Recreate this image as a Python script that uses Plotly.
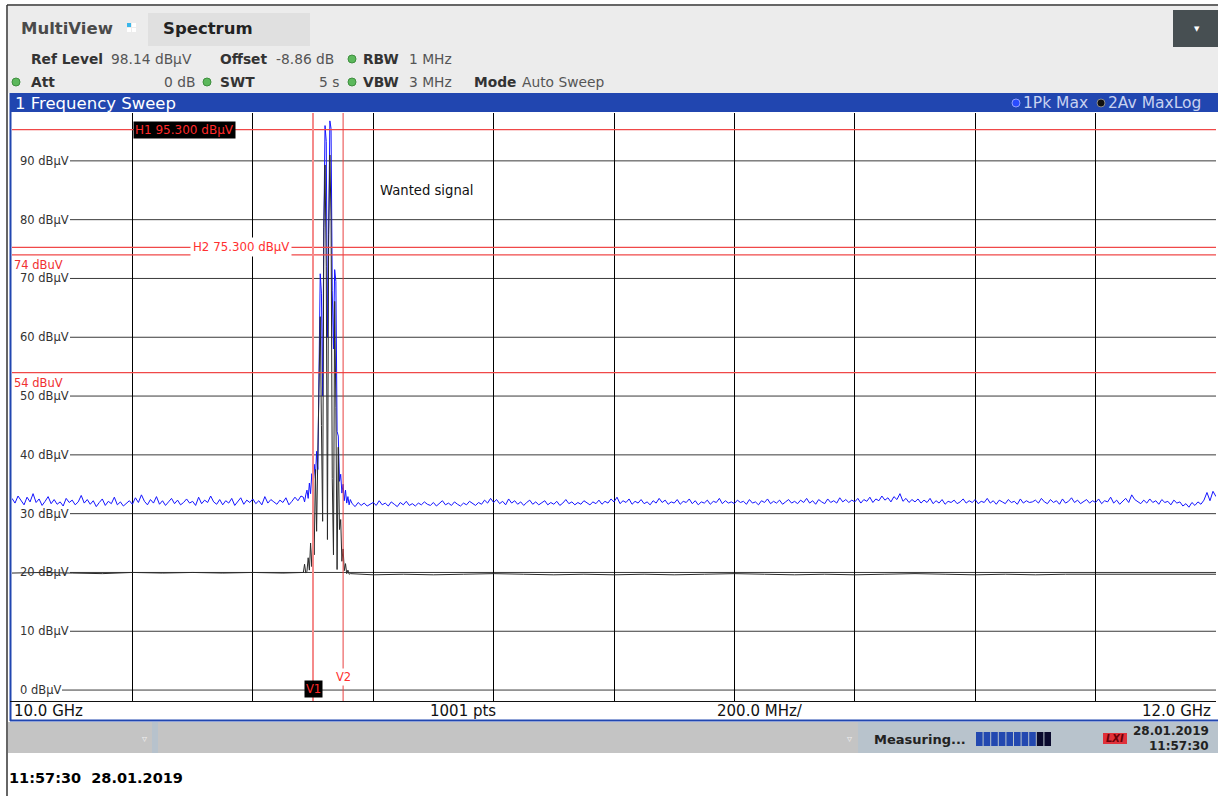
import plotly.graph_objects as go

# ---------------- data ----------------
START_GHZ = 10.0
STOP_GHZ = 12.0
NOISE_STEP_GHZ = 0.005          # blue (1Pk Max) noise floor sampling
BLACK_STEP_GHZ = 0.05           # black (2Av MaxLog) noise floor sampling
SIG_START_GHZ = 10.484          # detailed sweep points around the wanted signal
SIG_STEP_GHZ = 0.002

blue_noise_dbuv = [
    32.6, 31.8, 33.0, 32.2, 31.5, 32.8, 32.0, 33.4, 31.9, 32.5, 31.4, 32.1, 32.9, 31.7, 32.4, 31.6, 32.0, 31.3, 32.6, 31.9,
    32.3, 31.5, 32.0, 33.1, 31.8, 32.4, 31.6, 32.2, 31.2, 31.9, 32.5, 31.4, 32.1, 31.7, 32.8, 31.5, 32.0, 31.3, 31.8, 32.2,
    31.6, 32.7, 31.9, 33.2, 32.1, 31.5, 32.4, 31.8, 32.9, 31.6, 32.2, 31.4, 32.0, 32.6, 31.7, 32.3, 31.5, 31.9, 32.5, 31.8,
    32.1, 31.4, 32.8, 31.7, 32.3, 31.9, 33.0, 32.0, 31.6, 32.4, 31.5, 32.2, 31.8, 32.6, 31.4, 32.0, 32.7, 31.6, 32.3, 31.9,
    32.5, 31.7, 32.2, 31.5, 32.9, 31.8, 32.4, 32.0, 31.6, 32.3, 31.9, 32.7, 31.5, 32.1, 32.8, 32.2, 33.0, 32.4, 32.9, 33.2,
    32.2, 31.8, 32.5, 31.9, 32.3, 31.7, 32.0, 32.4, 31.8, 32.1, 31.6, 32.3, 31.9, 31.7, 31.2, 31.9, 31.4, 31.8, 31.3, 31.6,
    31.9, 31.4, 32.2, 31.5, 31.8, 31.3, 32.0, 31.6, 31.2, 31.9, 31.5, 32.1, 31.4, 31.7, 31.3, 31.8, 31.5, 32.0, 31.6, 31.4,
    31.9, 31.3, 31.7, 32.2, 31.5, 31.8, 31.4, 32.0, 31.6, 31.3, 31.8, 31.5, 32.1, 31.7, 31.4, 31.9, 31.6, 32.3, 31.8, 32.6,
    31.9, 32.4, 31.7, 32.1, 31.5, 32.5, 31.8, 32.2, 31.6, 32.0, 31.4, 31.9, 32.3, 31.6, 32.0, 31.5, 31.8, 32.2, 31.5, 31.9,
    31.6, 32.1, 31.4, 31.8, 32.4, 31.7, 32.0, 31.5, 31.9, 31.6, 32.2, 31.8, 31.5, 32.0, 31.7, 32.3, 31.6, 32.1, 31.8, 32.5,
    32.0, 32.8, 31.7, 32.2, 31.9, 32.5, 31.6, 32.1, 31.8, 32.4, 31.7, 32.0, 31.5, 32.2, 31.8, 32.6, 31.9, 32.3, 31.6, 32.0,
    31.8, 32.4, 31.6, 32.1, 31.9, 32.5, 31.7, 32.2, 31.5, 32.0, 31.8, 32.3, 31.6, 32.1, 31.9, 32.6, 31.7, 32.2, 31.8, 32.0,
    31.7, 32.3, 31.9, 32.1, 31.6, 32.4, 31.8, 32.0, 31.5, 32.2, 31.9, 32.5, 31.7, 32.1, 31.8, 32.3, 31.6, 32.0, 32.4, 31.8,
    32.1, 31.7, 32.3, 31.9, 32.6, 31.8, 32.2, 31.6, 32.4, 32.0, 31.7, 32.5, 31.9, 32.2, 31.8, 32.7, 32.0, 32.4, 31.9, 32.3,
    32.0, 32.6, 31.8, 32.4, 32.1, 32.8, 31.9, 32.5, 32.2, 33.0, 32.3, 32.7, 32.0, 32.9, 32.4, 33.4, 32.1, 32.6, 31.9, 32.4,
    32.0, 32.5, 31.8, 32.3, 31.9, 32.6, 31.7, 32.2, 31.8, 32.4, 31.6, 32.1, 31.9, 32.3, 31.7, 32.0, 32.5, 31.8, 32.2, 31.9,
    32.4, 31.7, 32.1, 31.9, 32.6, 31.8, 32.2, 31.6, 32.3, 32.0, 31.7, 32.4, 31.9, 32.1, 31.6, 32.5, 31.8, 32.2, 31.9, 32.0,
    32.3, 31.8, 32.6, 32.0, 31.7, 32.4, 31.9, 32.2, 31.6, 32.5, 31.8, 32.1, 32.7, 31.9, 32.3, 31.7, 32.0, 32.4, 31.8, 32.2,
    31.9, 32.5, 31.7, 32.2, 32.0, 32.8, 31.8, 32.3, 31.6, 32.1, 32.6, 31.9, 33.2, 32.4, 32.0, 31.7, 32.3, 31.8, 32.5, 31.9,
    32.2, 31.6, 32.4, 31.9, 32.1, 31.5, 32.3, 31.8, 32.0, 31.3, 31.7, 31.1, 31.9, 31.4, 32.0, 31.6, 32.3, 33.6, 32.2, 33.8,
    32.9,
]

black_noise_dbuv = [
    19.9, 20.0, 19.9, 19.8, 20.0, 19.9, 20.0, 19.9, 20.0, 19.9,
    19.8, 19.7, 19.6, 19.7, 19.6, 19.7, 19.8, 19.7, 19.6, 19.7,
    19.6, 19.7, 19.6, 19.7, 19.8, 19.7, 19.6, 19.7, 19.6, 19.7,
    19.8, 19.7, 19.6, 19.7, 19.6, 19.7, 19.7, 19.6, 19.7, 19.6,
    19.7,
]

sig_blue_dbuv = [
    32.8, 32.0, 33.2, 34.0, 32.6, 35.2, 33.4, 36.8, 34.6, 38.4,
    36.0, 40.6, 37.5, 60.0, 70.8, 67.5, 50.0, 78.6, 96.0, 93.3,
    60.0, 77.5, 96.8, 95.5, 68.0, 58.0, 71.5, 69.5, 44.0, 43.2,
    35.5, 36.7, 33.5, 35.0, 32.2, 34.0, 31.8, 32.9, 31.5, 32.4,
]
sig_black_dbuv = [
    20.0, 21.4, 19.9, 20.2, 22.5, 20.4, 25.0, 21.0, 26.5, 23.0,
    37.5, 27.0, 40.0, 56.0, 63.5, 45.0, 28.7, 78.6, 89.3, 72.0,
    25.6, 77.4, 91.0, 80.0, 36.0, 23.0, 66.1, 48.0, 20.5, 41.3,
    27.3, 29.0, 21.9, 24.0, 20.3, 21.5, 19.8, 20.4, 19.7, 19.8,
]

y_tick_values = [0, 10, 20, 30, 40, 50, 60, 70, 80, 90]
y_tick_labels = ["0 dBµV", "10 dBµV", "20 dBµV", "30 dBµV", "40 dBµV",
                 "50 dBµV", "60 dBµV", "70 dBµV", "80 dBµV", "90 dBµV"]
REF_LEVEL = 98.14
H1_LEVEL = 95.3
H2_LEVEL = 75.3
LIMIT_LEVELS = [74, 54]
LIMIT_LABELS = ["74 dBuV", "54 dBuV"]
V1_GHZ = 10.5
V2_GHZ = 10.55

# ---------------- build traces ----------------
sig_f = [SIG_START_GHZ + i * SIG_STEP_GHZ for i in range(len(sig_blue_dbuv))]
lo, hi = sig_f[0] - 1e-9, sig_f[-1] + 1e-9
noise_f = [START_GHZ + i * NOISE_STEP_GHZ for i in range(len(blue_noise_dbuv))]
black_f = [START_GHZ + i * BLACK_STEP_GHZ for i in range(len(black_noise_dbuv))]

bx = [f for f in noise_f if f < lo] + sig_f + [f for f in noise_f if f > hi]
by = ([v for f, v in zip(noise_f, blue_noise_dbuv) if f < lo] + sig_blue_dbuv +
      [v for f, v in zip(noise_f, blue_noise_dbuv) if f > hi])
kx = [f for f in black_f if f < lo] + sig_f + [f for f in black_f if f > hi]
ky = ([v for f, v in zip(black_f, black_noise_dbuv) if f < lo] + sig_black_dbuv +
      [v for f, v in zip(black_f, black_noise_dbuv) if f > hi])

W, H = 1218, 796
L, R, T, B = 12, 2, 113, 95


def px(x):
    return (x - L) / (W - L - R)


def py(y):
    return (H - B - y) / (H - T - B)


fig = go.Figure()
fig.add_trace(go.Scatter(x=bx, y=by, mode="lines", line=dict(color="#1414ff", width=1),
                         hoverinfo="skip", showlegend=False))
fig.add_trace(go.Scatter(x=kx, y=ky, mode="lines", line=dict(color="#2a2a2a", width=1),
                         hoverinfo="skip", showlegend=False))

shapes = []
ann = []
FONT = "DejaVu Sans"


def rect(x0, y0, x1, y1, fill, line=None, lw=0, layer="above"):
    shapes.append(dict(type="rect", xref="paper", yref="paper", x0=px(x0), x1=px(x1),
                       y0=py(y0), y1=py(y1), fillcolor=fill,
                       line=dict(color=line or fill, width=lw), layer=layer))


def hline_px(x0, x1, y, color, w=1):
    shapes.append(dict(type="line", xref="paper", yref="paper", x0=px(x0), x1=px(x1),
                       y0=py(y), y1=py(y), line=dict(color=color, width=w)))


def vline_px(x, y0, y1, color, w=1):
    shapes.append(dict(type="line", xref="paper", yref="paper", x0=px(x), x1=px(x),
                       y0=py(y0), y1=py(y1), line=dict(color=color, width=w)))


def circle(cx, cy, r, fill, line):
    shapes.append(dict(type="circle", xref="paper", yref="paper", x0=px(cx - r), x1=px(cx + r),
                       y0=py(cy + r), y1=py(cy - r), fillcolor=fill, line=dict(color=line, width=1)))


def txt(x, y, s, size=13, color="#222", anchor="left", bold=False, family=FONT, bg=None, pad=0):
    ann.append(dict(xref="paper", yref="paper", x=px(x), y=py(y), text=("<b>%s</b>" % s) if bold else s,
                    showarrow=False, xanchor=anchor, yanchor="middle",
                    font=dict(family=family, size=size, color=color),
                    bgcolor=bg, borderpad=pad))


# ---- page frame & header ----
rect(8, 6, 1218, 93, "#ececec")
hline_px(7, 1218, 5, "#333333", 1.5)
vline_px(7, 5, 796, "#333333", 1.5)
txt(20, 28, "MultiView", 16.5, "#4a4a4a", bold=True)
rect(127, 23, 131, 27, "#39b6ea")
rect(132, 23, 136, 27, "#ffffff")
rect(127, 28, 131, 32, "#ffffff")
rect(132, 28, 136, 32, "#ffffff")
rect(148, 13, 310, 46, "#e0e0e0")
txt(162, 28, "Spectrum", 16.5, "#222", bold=True)
rect(1173, 10, 1218, 47, "#474f52")
txt(1197, 29, "▼", 7, "#ffffff", anchor="center")

LAB = "#333333"
VAL = "#555555"
FS = 13.8
txt(30, 59, "Ref Level", FS, LAB, bold=True)
txt(110, 59, "98.14 dBµV", FS, VAL)
txt(219, 59, "Offset", FS, LAB, bold=True)
txt(275, 59, "-8.86 dB", FS, VAL)
circle(352, 59, 4, "#5cb85c", "#3f8f3f")
txt(362, 59, "RBW", FS, LAB, bold=True)
txt(408, 59, "1 MHz", FS, VAL)

circle(16, 82, 4, "#5cb85c", "#3f8f3f")
txt(30, 82, "Att", FS, LAB, bold=True)
txt(196, 82, "0 dB", FS, VAL, anchor="right")
circle(207, 82, 4, "#5cb85c", "#3f8f3f")
txt(219, 82, "SWT", FS, LAB, bold=True)
txt(340, 82, "5 s", FS, VAL, anchor="right")
circle(352, 82, 4, "#5cb85c", "#3f8f3f")
txt(362, 82, "VBW", FS, LAB, bold=True)
txt(408, 82, "3 MHz", FS, VAL)
txt(473, 82, "Mode", FS, LAB, bold=True)
txt(521, 82, "Auto Sweep", FS, VAL)

# ---- window title bar ----
rect(10, 93, 1218, 112, "#2146b0")
txt(14, 103, "1 Frequency Sweep", 16.5, "#ffffff")
circle(1016, 103, 4, "#2a4cff", "#8fa0ff")
txt(1022, 103, "1Pk Max", 15.5, "#c8d2f0")
circle(1101, 103, 4, "#111111", "#8a8a8a")
txt(1107, 103, "2Av MaxLog", 15.5, "#c8d2f0")
vline_px(10.5, 93, 721, "#2146b0", 2)

# ---- graticule: horizontal lines with inside labels ----
for v, lab in zip(y_tick_values, y_tick_labels):
    x0 = 62 if v < 10 else 70
    shapes.append(dict(type="line", xref="paper", yref="y", x0=px(x0), x1=1, y0=v, y1=v,
                       line=dict(color="#3a3a3a", width=1), layer="below"))
    ann.append(dict(xref="paper", yref="y", x=px(18), y=v, text=lab, showarrow=False,
                    xanchor="left", yanchor="middle",
                    font=dict(family=FONT, size=11.5, color="#333333")))

# ---- display / limit lines ----
RED = "#f04848"
for lvl in [H1_LEVEL, H2_LEVEL] + LIMIT_LEVELS:
    shapes.append(dict(type="line", xref="paper", yref="y", x0=0, x1=1, y0=lvl, y1=lvl,
                       line=dict(color=RED, width=1.2)))
shapes.append(dict(type="line", xref="x", yref="paper", x0=V1_GHZ, x1=V1_GHZ, y0=0, y1=1,
                   line=dict(color="#f58a8a", width=2)))
shapes.append(dict(type="line", xref="x", yref="paper", x0=V2_GHZ, x1=V2_GHZ, y0=0, y1=1,
                   line=dict(color="#e84040", width=1)))

ann.append(dict(xref="paper", yref="y", x=px(133), y=H1_LEVEL, text="H1 %.3f dBµV" % H1_LEVEL,
                showarrow=False, xanchor="left", yanchor="middle", bgcolor="#000000", borderpad=1,
                font=dict(family=FONT, size=12, color="#ff2a2a")))
ann.append(dict(xref="paper", yref="y", x=px(241), y=H2_LEVEL, text="H2 %.3f dBµV" % H2_LEVEL,
                showarrow=False, xanchor="center", yanchor="middle", bgcolor="#ffffff", borderpad=2,
                font=dict(family=FONT, size=11.8, color="#ff3030")))
for lvl, lab in zip(LIMIT_LEVELS, LIMIT_LABELS):
    ann.append(dict(xref="paper", yref="y", x=0, y=lvl, text=lab, showarrow=False,
                    xanchor="left", yanchor="top", yshift=-1,
                    font=dict(family=FONT, size=11.5, color="#f03030")))
ann.append(dict(xref="x", yref="paper", x=V1_GHZ, y=py(689), text="V1", showarrow=False,
                xanchor="center", yanchor="middle", bgcolor="#000000", borderpad=1,
                font=dict(family=FONT, size=11.5, color="#ff2a2a")))
ann.append(dict(xref="x", yref="paper", x=V2_GHZ, y=py(677), text="V2", showarrow=False,
                xanchor="center", yanchor="middle", bgcolor="#ffffff", borderpad=1,
                font=dict(family=FONT, size=11.5, color="#ff3030")))
txt(379, 190, "Wanted signal", 13.2, "#111111")

# ---- x label strip ----
hline_px(10, 1216, 701.5, "#111111", 1)
hline_px(10, 1218, 720.5, "#2146b0", 2)
txt(13, 711, "%.1f GHz" % START_GHZ, 15, "#111")
txt(463, 711, "1001 pts", 15, "#111", anchor="center")
txt(760, 711, "200.0 MHz/", 15, "#111", anchor="center")
txt(1212, 711, "%.1f GHz" % STOP_GHZ, 15, "#111", anchor="right")

# ---- status bar ----
rect(8, 722, 858, 753, "#c4c4c4")
rect(152, 722, 158, 753, "#b7c2cc")
rect(858, 722, 1218, 753, "#b8c3cc")
txt(144, 738, "▿", 10, "#eeeeee", anchor="center")
txt(849, 738, "▿", 10, "#eeeeee", anchor="center")
txt(873, 739, "Measuring...", 13, "#222222", bold=True)
for i in range(10):
    x0 = 976 + i * 7.6
    rect(x0, 732, x0 + 6.6, 746, "#2348b0" if i < 8 else "#0b0b2e")
rect(1103, 733, 1127, 744, "#e0303a")
txt(1115, 738.5, "<i>LXI</i>", 10, "#6a0008", anchor="center", bold=True)
txt(1210, 731, "28.01.2019", 12, "#222222", anchor="right", bold=True)
txt(1210, 746, "11:57:30", 12, "#222222", anchor="right", bold=True)

txt(8, 778, "11:57:30  28.01.2019", 14.5, "#000000", bold=True)

fig.update_layout(
    width=W, height=H,
    margin=dict(l=L, r=R, t=T, b=B, autoexpand=False),
    paper_bgcolor="#ffffff", plot_bgcolor="#ffffff",
    showlegend=False,
    xaxis=dict(range=[START_GHZ, STOP_GHZ], tick0=START_GHZ, dtick=0.2, showgrid=True,
               gridcolor="#000000", gridwidth=1, showticklabels=False, ticks="",
               zeroline=False, showline=False, fixedrange=True),
    yaxis=dict(range=[REF_LEVEL - 100, REF_LEVEL], showgrid=False, showticklabels=False,
               ticks="", zeroline=False, showline=False, fixedrange=True),
    shapes=shapes, annotations=ann,
)

fig.write_html("out.html")
